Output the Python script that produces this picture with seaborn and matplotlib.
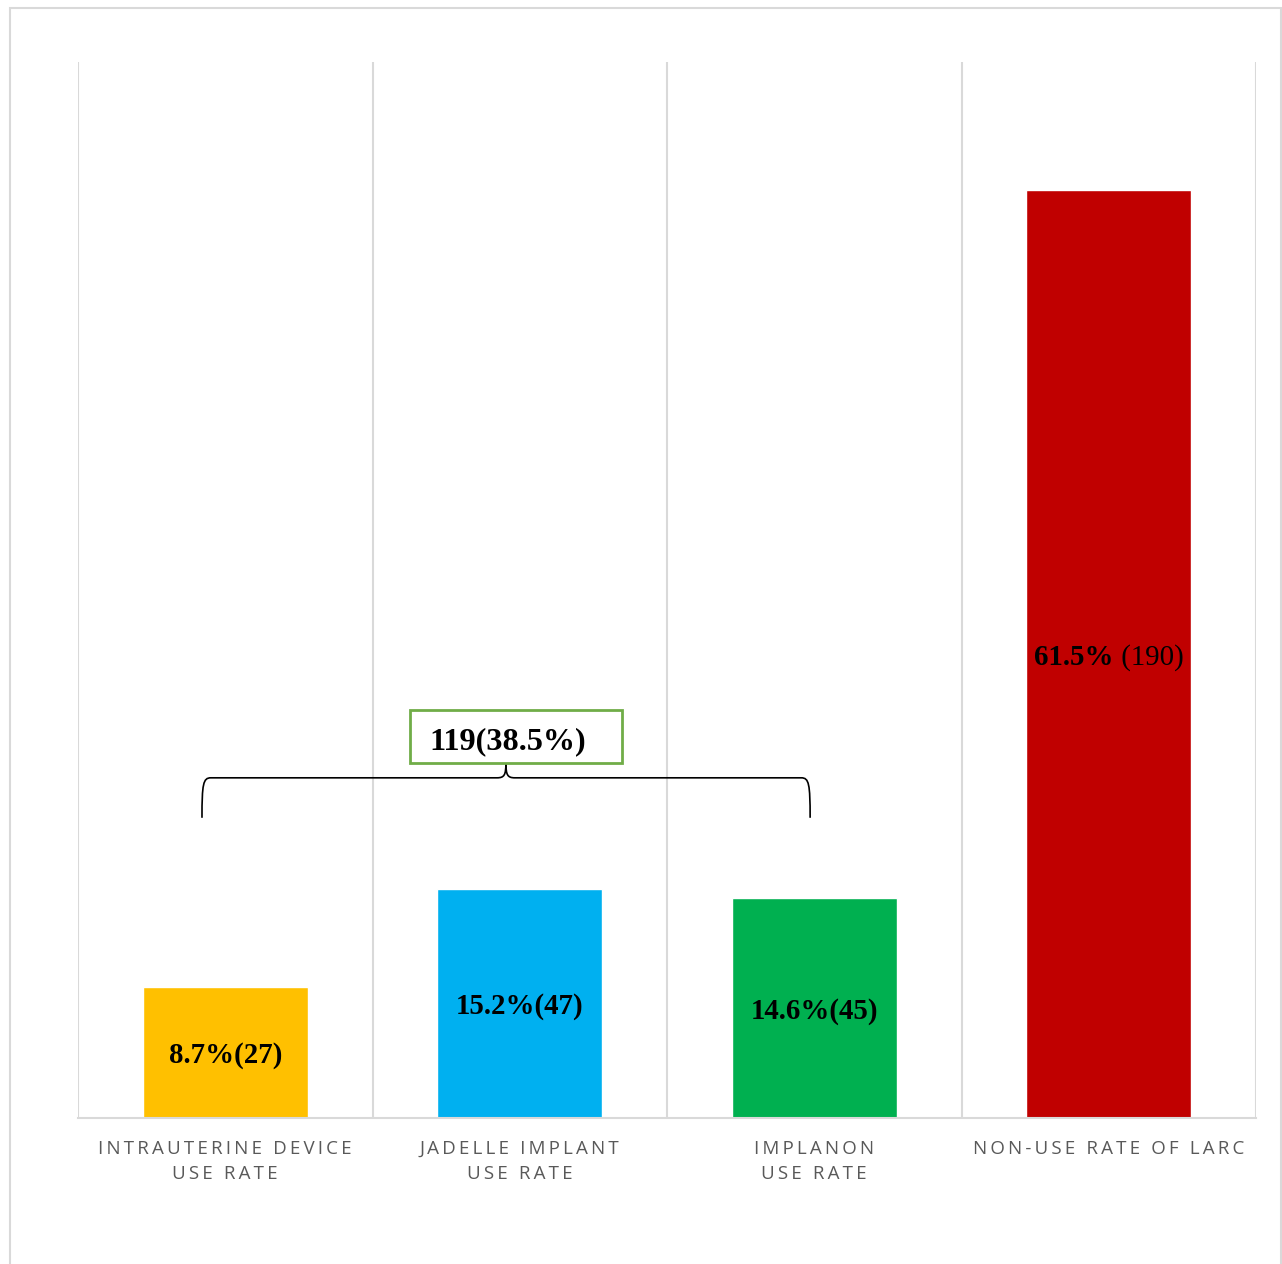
import matplotlib
matplotlib.use("Agg")
import matplotlib.pyplot as plt
import seaborn as sns
import pandas as pd
from matplotlib.path import Path
from matplotlib.patches import PathPatch, Rectangle
from matplotlib.transforms import offset_copy

categories = ["INTRAUTERINE DEVICE\nUSE RATE", "JADELLE IMPLANT\nUSE RATE",
              "IMPLANON\nUSE RATE", "NON-USE RATE OF LARC"]
percent = [8.7, 15.2, 14.6, 61.5]
counts = [27, 47, 45, 190]
colors = ["#FFC000", "#00B0F0", "#00B050", "#C00000"]
group_total = 119
group_pct = 38.5

sns.set_theme(style="white")
plt.rcParams['font.family'] = ['DejaVu Sans']
plt.rcParams['text.color'] = 'black'

fig = plt.figure(figsize=(12.82, 12.64), dpi=100)
ax = fig.add_axes([78/1282, 1-1118/1264, (1256-78)/1282, (1118-62)/1264])

df = pd.DataFrame({"cat": categories, "pct": percent})
sns.barplot(data=df, x="cat", y="pct", hue="cat", palette=colors, width=0.56,
            legend=False, ax=ax, saturation=1)

ax.set_ylim(0, 70)
ax.set_xlim(-0.5, 3.5)
ax.set_yticks([])
ax.set_xlabel("")
ax.set_ylabel("")
for s in ["top", "left", "right"]:
    ax.spines[s].set_visible(False)
ax.spines["bottom"].set_color("#D9D9D9")
ax.spines["bottom"].set_linewidth(1.5)
for xb in [-0.5, 0.5, 1.5, 2.5, 3.5]:
    ax.axvline(xb, color="#D9D9D9", lw=1.5, zorder=0)

def spaced(s, sp="\u2009"):
    return "\n".join(sp.join(list(line)) for line in s.split("\n"))

ax.set_xticks(range(len(categories)))
ax.set_xticklabels([spaced(c) for c in categories], fontsize=13.5,
                   color="#595959", family=["Open Sans", "DejaVu Sans"],
                   linespacing=1.5)
ax.tick_params(axis="x", length=0, pad=16)

FS = 20.8
# bar value labels
for i, (p, c) in enumerate(zip(percent, counts)):
    if i < 3:
        ax.text(i, p/2, f"{p}%({c})", ha="center", va="center_baseline",
                fontsize=FS, fontweight="bold", family="Liberation Serif",
                color="black")

# last bar: bold percent + regular count, centered together
renderer = fig.canvas.get_renderer()
i = 3
p, c = percent[i], counts[i]
tb = ax.text(i, p/2, f"{p}%", ha="left", va="center_baseline", fontsize=FS,
             fontweight="bold", family="Liberation Serif", color="black")
tr = ax.text(i, p/2, f" ({c})", ha="left", va="center_baseline", fontsize=FS,
             family="Liberation Serif", color="black")
wb = tb.get_window_extent(renderer).width
wr = tr.get_window_extent(renderer).width
tot = wb + wr
tb.set_transform(offset_copy(ax.transData, fig=fig, x=-tot/2, y=0, units="dots"))
tr.set_transform(offset_copy(ax.transData, fig=fig, x=-tot/2 + wb, y=0, units="dots"))

# brace
x0, x1, xm = -0.079, 1.986, 0.953
yb, yh, yt = 19.9, 22.55, 23.55
dx = 0.03
verts = [(x0, yb), (x0, yh - 0.4), (x0 + 0.004, yh), (x0 + dx, yh),
         (xm - dx, yh),
         (xm - 0.005, yh), (xm, yh + 0.2), (xm, yt),
         (xm, yh + 0.2), (xm + 0.005, yh), (xm + dx, yh),
         (x1 - dx, yh),
         (x1 - 0.004, yh), (x1, yh - 0.4), (x1, yb)]
codes = [Path.MOVETO, Path.CURVE4, Path.CURVE4, Path.CURVE4,
         Path.LINETO,
         Path.CURVE4, Path.CURVE4, Path.CURVE4,
         Path.CURVE4, Path.CURVE4, Path.CURVE4,
         Path.LINETO,
         Path.CURVE4, Path.CURVE4, Path.CURVE4]
ax.add_patch(PathPatch(Path(verts, codes), fill=False, edgecolor="black",
                       lw=1.2, zorder=5))

# group box
ax.add_patch(Rectangle((0.627, 23.53), 1.347 - 0.627, 27.05 - 23.53,
                       facecolor="white", edgecolor="#70AD47", lw=2, zorder=6))
ax.text(0.96, 25.2, f"{group_total}({group_pct}%)", ha="center",
        va="center_baseline", fontsize=23.2, fontweight="bold",
        family="Liberation Serif", color="black", zorder=7)

# figure border
fig.patches.append(Rectangle((10/1282, -0.01), (1281-10)/1282, 1 - 8/1264 + 0.01,
                             transform=fig.transFigure, fill=False,
                             edgecolor="#D9D9D9", lw=1.5))

fig.savefig("out.png", dpi=100)
